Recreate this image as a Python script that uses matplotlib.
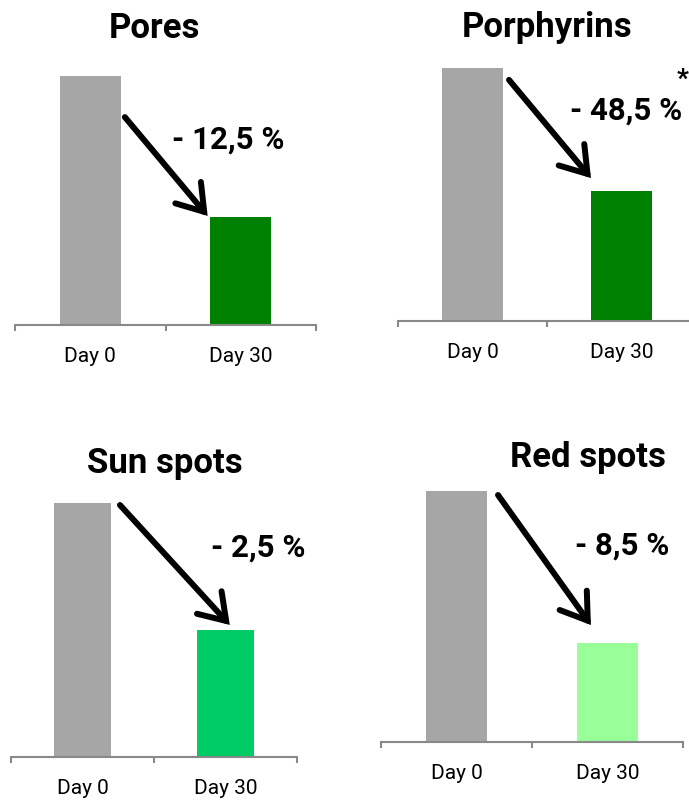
import matplotlib
matplotlib.use("Agg")
import matplotlib.pyplot as plt

# --- data -------------------------------------------------------------
panels = ["Pores", "Porphyrins", "Sun spots", "Red spots"]
timepoints = ["Day 0", "Day 30"]
day0 = [100.0, 100.0, 100.0, 100.0]
day30 = [87.5, 51.5, 97.5, 91.5]
change_pct = [-12.5, -48.5, -2.5, -8.5]
significant = [False, True, False, False]
# lower limit of each (hidden) value axis
y_floor = [77.9, 0.0, 95.0, 86.0]

# --- styling ----------------------------------------------------------
GRAY = "#A6A6A6"
AXIS_GRAY = "#898989"
day30_colors = ["#008000", "#008000", "#00CC66", "#99FF99"]

W, H = 689, 801
DPI = 100
fig = plt.figure(figsize=(W / DPI, H / DPI), dpi=DPI)

# per panel layout in pixels: axis left, axis right, baseline y, top y
layout = [
    dict(x0=15, x1=316, base=325, top=76, title=(154, 28), label=(228, 140),
         arrow=((0.23, 0.835), (0.78, 0.438))),
    dict(x0=398, x1=696, base=321, top=68, title=(547, 28), label=(626, 111),
         arrow=((0.245, 0.953), (0.795, 0.565)), star=(683, 80)),
    dict(x0=11, x1=297, base=757, top=503, title=(165, 463), label=(258, 548),
         arrow=((0.262, 0.992), (1.03, 0.52))),
    dict(x0=381, x1=683, base=742, top=491, title=(588, 458), label=(622, 546),
         arrow=((0.275, 0.984), (0.89, 0.466))),
]

TITLE_FONT = dict(family="Roboto", weight="bold", size=25)
LABEL_FONT = dict(family="Roboto", weight="bold", size=22.5)
STAR_FONT = dict(family="Roboto", weight="bold", size=19)
TICK_FONT = dict(family="Roboto", size=15)


def fmt_change(p):
    s = f"{abs(p):.1f}".replace(".", ",")
    sign = "-" if p < 0 else "+"
    return f"{sign} {s} %"


for i, lay in enumerate(layout):
    rect = [lay["x0"] / W, 1 - lay["base"] / H,
            (lay["x1"] - lay["x0"]) / W, (lay["base"] - lay["top"]) / H]
    ax = fig.add_axes(rect)
    ax.set_facecolor("none")
    x = [0, 1]
    ax.bar(x, [day0[i], day30[i]], width=0.405,
           color=[GRAY, day30_colors[i]], zorder=2)
    ax.set_xlim(-0.5, 1.5)
    ax.set_ylim(y_floor[i], day0[i])

    for side in ("left", "right", "top"):
        ax.spines[side].set_visible(False)
    ax.spines["bottom"].set_color(AXIS_GRAY)
    ax.spines["bottom"].set_linewidth(1.5)
    ax.spines["bottom"].set_zorder(3)
    ax.yaxis.set_visible(False)

    # category boundary ticks pointing down, labels centred under bars
    ax.set_xticks([-0.5, 0.5, 1.5])
    ax.set_xticklabels([])
    ax.tick_params(axis="x", which="major", direction="out", length=4.5,
                   width=1.5, color=AXIS_GRAY)
    ax.set_xticks(x, minor=True)
    ax.set_xticklabels(timepoints, minor=True, fontdict=TICK_FONT)
    ax.tick_params(axis="x", which="minor", length=0, pad=16)

    # arrow from the baseline bar down to the day-30 bar
    (sx, sy), (ex, ey) = lay["arrow"]
    ax.annotate("", xy=(ex, ey), xytext=(sx, sy),
                xycoords=("data", "axes fraction"),
                textcoords=("data", "axes fraction"),
                annotation_clip=False,
                arrowprops=dict(arrowstyle="->,head_length=1.8,head_width=1.2",
                                mutation_scale=10, lw=4.3, color="black",
                                shrinkA=0, shrinkB=0, capstyle="round",
                                joinstyle="miter"))

    fig.text(lay["title"][0] / W, 1 - lay["title"][1] / H, panels[i],
             ha="center", va="center", **TITLE_FONT)
    fig.text(lay["label"][0] / W, 1 - lay["label"][1] / H,
             fmt_change(change_pct[i]), ha="center", va="center", **LABEL_FONT)
    if significant[i]:
        fig.text(lay["star"][0] / W, 1 - lay["star"][1] / H, "*",
                 ha="center", va="center", **STAR_FONT)

fig.savefig("out.png", dpi=DPI)
